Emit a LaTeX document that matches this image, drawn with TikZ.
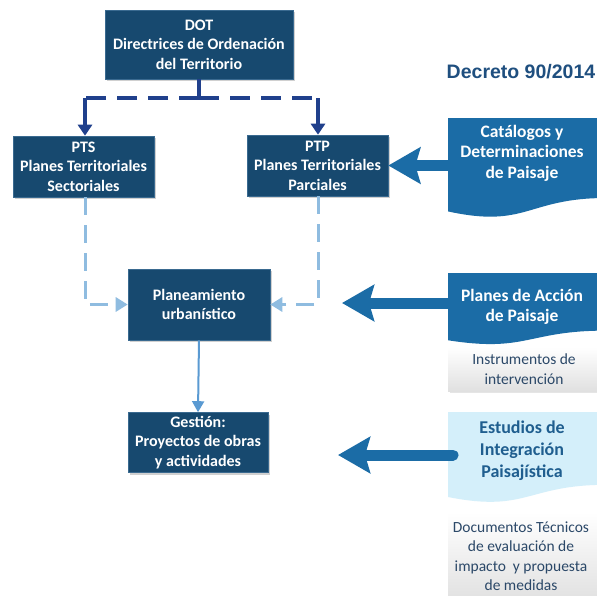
\documentclass[tikz,border=0pt]{standalone}
\usepackage{fontspec}
\setmainfont{Carlito}
\newfontfamily\arialfont{Liberation Sans}
\usetikzlibrary{arrows.meta,shadows}

\definecolor{boxdark}{HTML}{17496F}
\definecolor{boxedge}{HTML}{3A6A90}
\definecolor{midblue}{HTML}{1B6CA6}
\definecolor{dashdark}{HTML}{20408C}
\definecolor{dashlight}{HTML}{8FBCE0}
\definecolor{linelight}{HTML}{5A9AD2}
\definecolor{cyanfill}{HTML}{D4EFFA}
\definecolor{cyantext}{HTML}{1F5E8F}
\definecolor{graytext}{HTML}{2B4868}
\definecolor{decretoc}{HTML}{1F4F7F}

\tikzset{
 darkbox/.style={rectangle, fill=boxdark, draw=boxedge, line width=0.6pt, text=white,
   font=\bfseries\fontsize{16}{19.5}\selectfont, align=center, inner sep=0pt,
   drop shadow={shadow xshift=2pt, shadow yshift=-2pt, opacity=0.3, fill=black!60}},
 doctext/.style={text=white, font=\bfseries\fontsize{17.5}{20.5}\selectfont, align=center},
 graybox/.style={rectangle, top color=white, bottom color=black!12, draw=none,
   text=graytext, font=\fontsize{15.5}{19.5}\selectfont, align=center, inner sep=0pt,
   drop shadow={shadow xshift=1.5pt, shadow yshift=-1.5pt, opacity=0.2, fill=black!50}},
 bigarrow/.style={draw=midblue, line width=11pt, line cap=round,
   -{Stealth[length=32pt, width=36pt, inset=5pt]}},
 darkdash/.style={draw=dashdark, line width=3.5pt, dash pattern=on 20pt off 11pt},
 darksolid/.style={draw=dashdark, line width=3.5pt, -{Triangle[length=11pt, width=14pt]}},
 lightdash/.style={draw=dashlight, line width=3pt, dash pattern=on 18pt off 10pt,
   -{Triangle[length=12pt, width=14pt]}},
 lightsolid/.style={draw=linelight, line width=2pt, -{Triangle[length=11pt, width=12pt]}},
}

% wavy document shape: #1 fill, #2 top, #3 height
\newcommand{\docshapepath}[3]{%
  \fill[#1] (448,#2) -- (606,#2) -- (606,{#2+0.8*#3})
    .. controls (527,{#2+0.8*#3}) and (527,{#2+1.107*#3}) .. (448,{#2+0.934*#3}) -- cycle;}

\begin{document}
\begin{tikzpicture}[x=1pt,y=-1pt]
\useasboundingbox (0,0) rectangle (597,595);
\fill[white] (0,0) rectangle (597,595);

% boxes
\node[darkbox, minimum width=188pt, minimum height=69pt] (dot) at (199,44.5)
  {DOT\\Directrices de Ordenación\\del Territorio};
\node[darkbox, minimum width=141pt, minimum height=61pt] (pts) at (83.5,166.5)
  {PTS\\Planes Territoriales\\Sectoriales};
\node[darkbox, minimum width=141pt, minimum height=61pt] (ptp) at (317.5,165.5)
  {PTP\\Planes Territoriales\\Parciales};
\node[darkbox, minimum width=142pt, minimum height=71pt] (plan) at (199,304.5)
  {Planeamiento\\urbanístico};
\node[darkbox, minimum width=140pt, minimum height=60pt] (gest) at (198,442.5)
  {Gestión:\\Proyectos de obras\\y actividades};

\node[font=\arialfont\bfseries\fontsize{19.5}{22}\selectfont, text=decretoc] (dec) at (521,72) {Decreto 90/2014};

% right-hand shapes
\docshapepath{midblue}{118}{100}
\node[doctext] (cat) at (522,153) {Catálogos y\\Determinaciones\\de Paisaje};
\coordinate (catL) at (452,165.5);

\docshapepath{midblue}{273}{72}
\node[doctext] (pap) at (522,307) {Planes de Acción\\de Paisaje};
\coordinate (papL) at (452,303);
\coordinate (papT) at (342,303);

\node[graybox, minimum width=152pt, minimum height=44pt] (ins) at (524,369)
  {Instrumentos de\\intervención};

\docshapepath{cyanfill}{412}{91}
\node[doctext, text=cyantext, font=\bfseries\fontsize{18}{22}\selectfont] (eip) at (522,451)
  {Estudios de\\Integración\\Paisajística};
\coordinate (eipL) at (453,455);
\coordinate (eipT) at (338,455);

\node[graybox, minimum width=152pt, minimum height=90pt, anchor=north] (doc) at (524,512) {};
\node[text=graytext, font=\fontsize{15.5}{19.5}\selectfont, align=center] (doctxt) at (521,556)
  {Documentos Técnicos\\de evaluación de\\impacto\ \ y propuesta\\de medidas};

% big arrows
\draw[bigarrow] (catL) -- (ptp.east);
\draw[bigarrow] (papL) -- (papT);
\draw[bigarrow] (eipL) -- (eipT);

% dark dashed connectors
\coordinate (jm) at (199,98);
\coordinate (jl) at (85,98);
\coordinate (jr) at (318,98);
\draw[draw=dashdark, line width=3.5pt] (dot.south) -- (jm);
\draw[darkdash] (jm) -- (jl);
\draw[darkdash] (jm) -- (jr);
\draw[darksolid] (jl) -- (jl |- pts.north);
\draw[darksolid] (jr) -- (jr |- ptp.north);

% light dashed connectors
\draw[lightdash] (pts.south -| jl) |- (plan.west);
\draw[lightdash] (ptp.south -| jr) |- (plan.east);

% solid light connector
\draw[lightsolid] (plan.south) -- (gest.north);
\end{tikzpicture}
\end{document}
